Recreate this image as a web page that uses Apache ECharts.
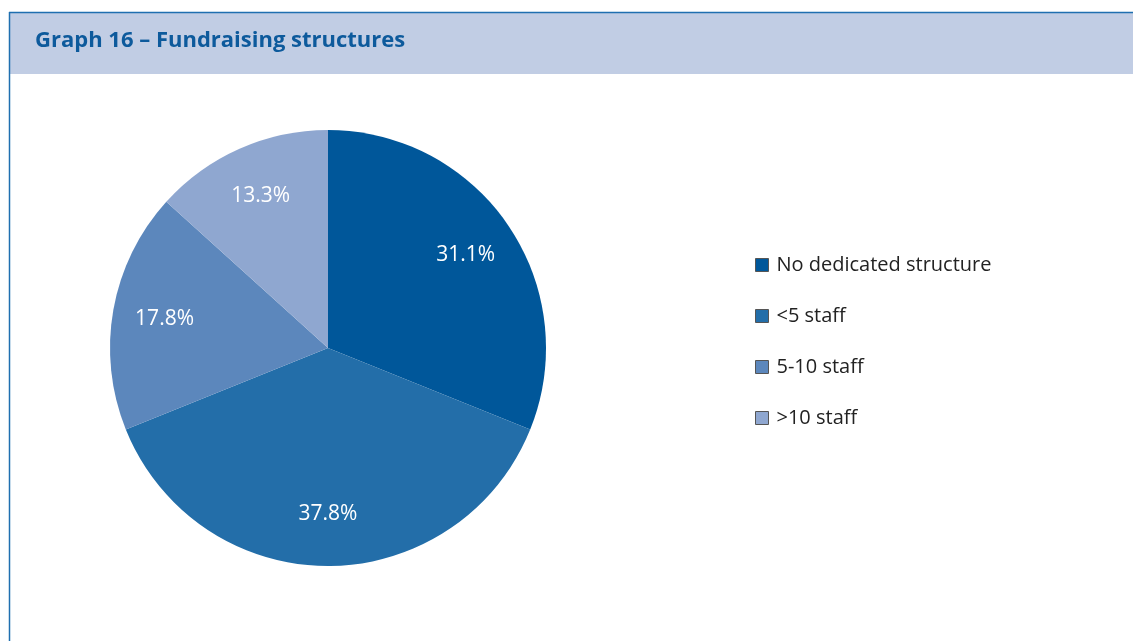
<!DOCTYPE html>
<html>
<head>
<meta charset="utf-8">
<script src="https://cdn.jsdelivr.net/npm/echarts@6/dist/echarts.min.js"></script>
<style>
    html, body { margin: 0; padding: 0; background: #fff; }
    #chart { width: 1133px; height: 641px; }
</style>
</head>
<body>
<div id="chart"></div>
<script>
// data
const categories = ['No dedicated structure', '<5 staff', '5-10 staff', '>10 staff'];
const shares = [31.1, 37.8, 17.8, 13.3];
const colors = ['#00579a', '#236ea9', '#5c87bc', '#8fa7d0'];

const font = '"Open Sans", "DejaVu Sans", sans-serif';
const chart = echarts.init(document.getElementById('chart'));

const pieData = categories.map((name, i) => ({
    name: name,
    value: shares[i],
    itemStyle: { color: colors[i] }
}));

const option = {
    animation: false,
    graphic: [
        // header band + frame
        { type: 'rect', shape: { x: 9, y: 12, width: 1130, height: 62 }, style: { fill: '#c1cde4' }, z: 0 },
        { type: 'line', shape: { x1: 9, y1: 12.5, x2: 1133, y2: 12.5 }, style: { stroke: '#1f6fb0', lineWidth: 1.5 } },
        { type: 'line', shape: { x1: 9.5, y1: 12, x2: 9.5, y2: 641 }, style: { stroke: '#1f6fb0', lineWidth: 1.5 } },
        {
            type: 'text', left: 35, top: 30,
            style: {
                text: 'Graph 16 – Fundraising structures',
                font: 'bold 22px ' + font,
                fill: '#0d5a9c'
            }
        }
    ],
    legend: {
        orient: 'vertical',
        left: 755,
        top: 255,
        padding: 0,
        itemWidth: 13,
        itemHeight: 13,
        itemGap: 31,
        icon: 'rect',
        data: categories.map((name, i) => ({
            name: name,
            itemStyle: { color: colors[i], borderColor: '#555', borderWidth: 1 }
        })),
        textStyle: { fontFamily: font, fontSize: 20, color: '#222', lineHeight: 20, padding: [0, 0, 0, 3] }
    },
    series: [
        {
            type: 'pie',
            center: [328, 348],
            radius: [0, 218],
            startAngle: 90,
            clockwise: true,
            label: { show: false },
            labelLine: { show: false },
            emphasis: { disabled: true },
            data: pieData
        },
        {
            // transparent ring only used to place the percentage labels
            type: 'pie',
            center: [328, 348],
            radius: [108, 218],
            startAngle: 90,
            clockwise: true,
            silent: true,
            label: {
                show: true,
                position: 'inside',
                formatter: p => p.value.toFixed(1) + '%',
                color: '#fff',
                fontFamily: font,
                fontSize: 21
            },
            labelLine: { show: false },
            emphasis: { disabled: true },
            data: shares.map((v, i) => ({
                name: categories[i],
                value: v,
                itemStyle: { color: 'rgba(0,0,0,0)' }
            }))
        }
    ]
};

chart.setOption(option);
</script>
</body>
</html>
